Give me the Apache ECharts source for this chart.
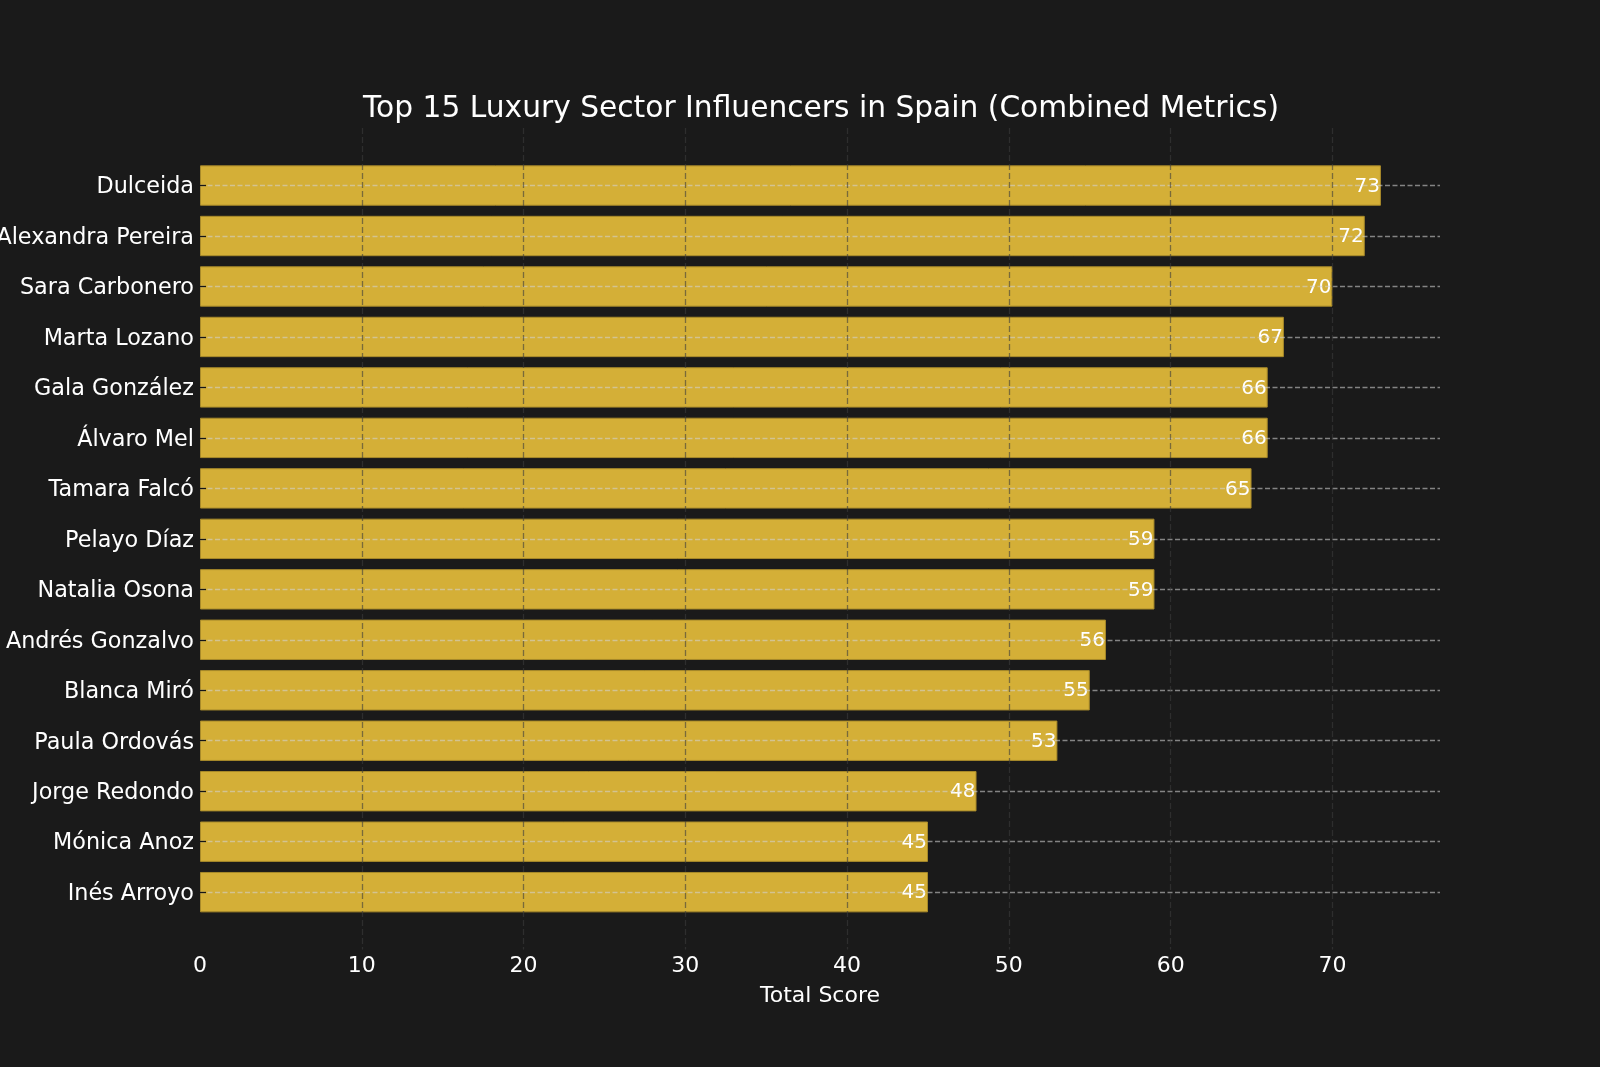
<!DOCTYPE html>
<html>
<head>
<meta charset="utf-8">
<script src="https://cdn.jsdelivr.net/npm/echarts@6/dist/echarts.min.js"></script>
<style>
html,body{margin:0;padding:0;background:#1a1a1a;}
#chart{width:1600px;height:1067px;}
</style>
</head>
<body>
<div id="chart"></div>
<script>
const categories = ["Dulceida","Alexandra Pereira","Sara Carbonero","Marta Lozano","Gala González","Álvaro Mel","Tamara Falcó","Pelayo Díaz","Natalia Osona","Andrés Gonzalvo","Blanca Miró","Paula Ordovás","Jorge Redondo","Mónica Anoz","Inés Arroyo"];
const scores = [73,72,70,67,66,66,65,59,59,56,55,53,48,45,45];
const xTickMax = 70;
const xLimit = 76.65;

const FONT = "DejaVu Sans";
const chart = echarts.init(document.getElementById('chart'));
const pxPerUnit = (1440 - 200) / xLimit;
const gridBRight = 1600 - (200 + xTickMax * pxPerUnit);

chart.setOption({
  backgroundColor: '#1a1a1a',
  animation: false,
  title: {
    text: 'Top 15 Luxury Sector Influencers in Spain (Combined Metrics)',
    left: 816, top: 89, textAlign: 'center',
    textStyle: {color: '#ffffff', fontFamily: FONT, fontSize: 29.7, fontWeight: 'normal'}
  },
  grid: [
    {left: 200, right: 160, top: 160.3, bottom: 1067 - 917.4, outerBoundsMode: 'none', containLabel: false},
    {left: 200, right: gridBRight, top: 128, bottom: 1067 - 949.6, outerBoundsMode: 'none', containLabel: false}
  ],
  xAxis: [
    {
      gridIndex: 0, type: 'value', min: 0, max: xLimit,
      axisLine: {show: false}, axisTick: {show: false}, axisLabel: {show: false}, splitLine: {show: false},
      name: 'Total Score', nameLocation: 'middle', nameGap: 68,
      nameTextStyle: {color: '#ffffff', fontFamily: FONT, fontSize: 22}
    },
    {
      gridIndex: 1, type: 'value', min: 0, max: xTickMax, interval: 10, z: 10,
      axisLine: {show: false}, axisTick: {show: false},
      axisLabel: {color: '#ffffff', fontFamily: FONT, fontSize: 22, margin: 6},
      splitLine: {show: true, showMinLine: false, lineStyle: {color: 'rgba(60,60,60,0.6)', type: [6, 3], width: 1.3}}
    }
  ],
  yAxis: [
    {
      gridIndex: 0, type: 'category', data: categories, inverse: true, z: 10,
      axisLine: {show: false},
      axisTick: {show: true, inside: true, length: 6, alignWithLabel: true, lineStyle: {color: '#151515', width: 1.3}},
      axisLabel: {
        color: '#ffffff', fontFamily: FONT, fontSize: 22.3, margin: 6,
        formatter: v => '{n|' + v + '}',
        rich: {n: {color: '#ffffff', fontFamily: FONT, fontSize: 22.3, padding: [4, 0, 0, 0]}}
      },
      splitLine: {show: false}
    },
    {
      gridIndex: 1, type: 'value', show: false
    }
  ],
  series: [{
    type: 'bar', xAxisIndex: 0, yAxisIndex: 0,
    data: scores, barWidth: '80%',
    itemStyle: {color: '#D4AF37', borderColor: '#A88A2A', borderWidth: 1},
    label: {show: true, position: 'insideRight', distance: 1, offset: [0, 1], color: '#ffffff', fontFamily: FONT, fontSize: 20},
    markLine: {
      silent: true, symbol: 'none', label: {show: false},
      lineStyle: {color: 'rgba(210,210,210,0.58)', type: [5, 2.5], width: 1.3},
      data: categories.map(c => ({yAxis: c}))
    }
  }]
});
</script>
</body>
</html>
